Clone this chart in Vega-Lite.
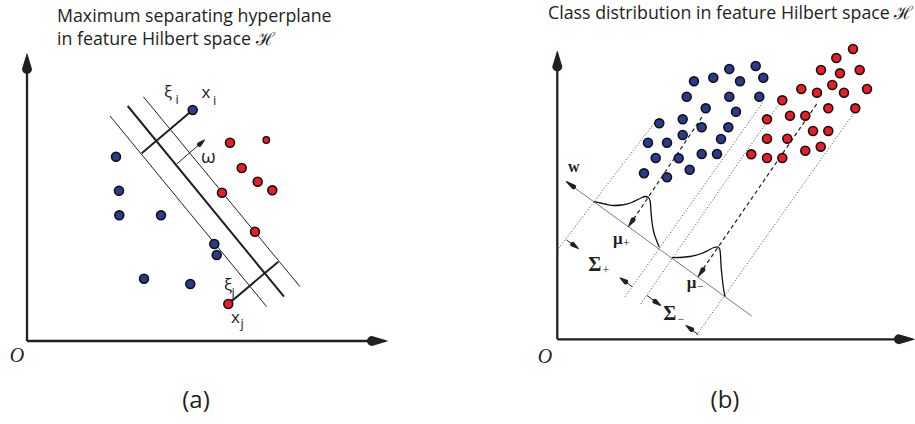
{
  "$schema": "https://vega.github.io/schema/vega-lite/v6.json",
  "width": 915,
  "height": 424,
  "autosize": {"type": "fit", "contains": "padding"},
  "padding": 0,
  "background": "white",
  "config": {"view": {"stroke": null}},
  "datasets": {
    "segs": [
      {"k": "axis", "x1": 27, "y1": 341, "x2": 27, "y2": 63},
      {"k": "axis", "x1": 27, "y1": 341, "x2": 377, "y2": 341},
      {"k": "axis", "x1": 557.3, "y1": 339.3, "x2": 557.3, "y2": 60},
      {"k": "axis", "x1": 557.3, "y1": 339.3, "x2": 905, "y2": 339.3},
      {"k": "thick", "x1": 127.7, "y1": 106, "x2": 284, "y2": 296.7},
      {"k": "thick", "x1": 192.7, "y1": 110, "x2": 141.7, "y2": 153.3},
      {"k": "thick", "x1": 228.3, "y1": 304, "x2": 278.3, "y2": 261.7},
      {"k": "thin", "x1": 110, "y1": 116, "x2": 266.7, "y2": 306.7},
      {"k": "thin", "x1": 143.3, "y1": 96.7, "x2": 300, "y2": 286.7},
      {"k": "thin", "x1": 176.7, "y1": 164, "x2": 201, "y2": 143},
      {"k": "thin", "x1": 566.5, "y1": 240, "x2": 574, "y2": 245.4},
      {"k": "thin", "x1": 632.2, "y1": 286.7, "x2": 624.5, "y2": 281},
      {"k": "thin", "x1": 647, "y1": 295.5, "x2": 656, "y2": 302},
      {"k": "thin", "x1": 698.3, "y1": 334.5, "x2": 690.5, "y2": 328.8},
      {"k": "wline", "x1": 570, "y1": 184.5, "x2": 751.7, "y2": 316},
      {"k": "dotted", "x1": 558.7, "y1": 248.3, "x2": 655, "y2": 122},
      {"k": "dotted", "x1": 625, "y1": 296.7, "x2": 763.3, "y2": 101.7},
      {"k": "dotted", "x1": 640.7, "y1": 304, "x2": 782, "y2": 100},
      {"k": "dotted", "x1": 696.7, "y1": 335, "x2": 856, "y2": 110},
      {"k": "dashed", "x1": 702, "y1": 117, "x2": 631, "y2": 223},
      {"k": "dashed", "x1": 816.7, "y1": 104, "x2": 701, "y2": 272}
    ],
    "heads": [
      {"id": "ay", "part": "tip", "o": 1, "x": 27, "y": 54},
      {"id": "ay", "part": "big", "o": 2, "x": 27, "y": 69},
      {"id": "ax", "part": "tip", "o": 1, "x": 387, "y": 341},
      {"id": "ax", "part": "big", "o": 2, "x": 372, "y": 341},
      {"id": "om", "part": "tip", "o": 1, "x": 204.5, "y": 140},
      {"id": "om", "part": "sm", "o": 2, "x": 199.5, "y": 144.3},
      {"id": "by", "part": "tip", "o": 1, "x": 557.3, "y": 51.5},
      {"id": "by", "part": "big", "o": 2, "x": 557.3, "y": 66.5},
      {"id": "bx", "part": "tip", "o": 1, "x": 914, "y": 339.3},
      {"id": "bx", "part": "big", "o": 2, "x": 899, "y": 339.3},
      {"id": "w", "part": "tip", "o": 1, "x": 566.3, "y": 181.5},
      {"id": "w", "part": "sm", "o": 2, "x": 573.5, "y": 186.7},
      {"id": "mp", "part": "tip", "o": 1, "x": 628.5, "y": 226.5},
      {"id": "mp", "part": "sm", "o": 2, "x": 633, "y": 219.9},
      {"id": "mm", "part": "tip", "o": 1, "x": 698.3, "y": 276.5},
      {"id": "mm", "part": "sm", "o": 2, "x": 702.8, "y": 269.9},
      {"id": "sa", "part": "tip", "o": 1, "x": 578.5, "y": 248.6},
      {"id": "sa", "part": "sm", "o": 2, "x": 572.8, "y": 244.5},
      {"id": "sb", "part": "tip", "o": 1, "x": 620, "y": 277.8},
      {"id": "sb", "part": "sm", "o": 2, "x": 625.7, "y": 281.9},
      {"id": "sc", "part": "tip", "o": 1, "x": 660.7, "y": 305.5},
      {"id": "sc", "part": "sm", "o": 2, "x": 655, "y": 301.4},
      {"id": "sd", "part": "tip", "o": 1, "x": 686, "y": 325.5},
      {"id": "sd", "part": "sm", "o": 2, "x": 691.6, "y": 329.6}
    ],
    "curves": [
      {"id": "c1", "o": 1, "x": 594.3, "y": 201.7},
      {"id": "c1", "o": 2, "x": 605, "y": 204},
      {"id": "c1", "o": 3, "x": 613.3, "y": 205.5},
      {"id": "c1", "o": 4, "x": 622, "y": 205},
      {"id": "c1", "o": 5, "x": 631.7, "y": 202.5},
      {"id": "c1", "o": 6, "x": 640, "y": 198.5},
      {"id": "c1", "o": 7, "x": 645.5, "y": 196.5},
      {"id": "c1", "o": 8, "x": 648.5, "y": 197.5},
      {"id": "c1", "o": 9, "x": 650.3, "y": 202},
      {"id": "c1", "o": 10, "x": 651, "y": 212},
      {"id": "c1", "o": 11, "x": 652, "y": 222},
      {"id": "c1", "o": 12, "x": 653.5, "y": 231},
      {"id": "c1", "o": 13, "x": 656, "y": 239},
      {"id": "c1", "o": 14, "x": 659.3, "y": 247},
      {"id": "c2", "o": 1, "x": 671.7, "y": 257.7},
      {"id": "c2", "o": 2, "x": 680, "y": 257.5},
      {"id": "c2", "o": 3, "x": 690, "y": 256.5},
      {"id": "c2", "o": 4, "x": 700, "y": 254},
      {"id": "c2", "o": 5, "x": 708, "y": 250.5},
      {"id": "c2", "o": 6, "x": 714, "y": 247.5},
      {"id": "c2", "o": 7, "x": 717.5, "y": 246.8},
      {"id": "c2", "o": 8, "x": 719.5, "y": 248.5},
      {"id": "c2", "o": 9, "x": 720.5, "y": 255},
      {"id": "c2", "o": 10, "x": 721, "y": 265},
      {"id": "c2", "o": 11, "x": 722, "y": 276},
      {"id": "c2", "o": 12, "x": 723.3, "y": 287},
      {"id": "c2", "o": 13, "x": 725, "y": 296.7}
    ],
    "pts": [
      {"cls": "blue", "sz": "n", "x": 192.7, "y": 110},
      {"cls": "blue", "sz": "n", "x": 116, "y": 156.7},
      {"cls": "blue", "sz": "n", "x": 119, "y": 190.7},
      {"cls": "blue", "sz": "n", "x": 119.3, "y": 215.3},
      {"cls": "blue", "sz": "n", "x": 161, "y": 215.3},
      {"cls": "blue", "sz": "n", "x": 214.3, "y": 244},
      {"cls": "blue", "sz": "n", "x": 216.7, "y": 255},
      {"cls": "blue", "sz": "n", "x": 144, "y": 278.7},
      {"cls": "blue", "sz": "n", "x": 190.3, "y": 284},
      {"cls": "red", "sz": "n", "x": 230, "y": 142.7},
      {"cls": "red", "sz": "s", "x": 266.3, "y": 140},
      {"cls": "red", "sz": "n", "x": 241.7, "y": 168},
      {"cls": "red", "sz": "n", "x": 257.7, "y": 181.7},
      {"cls": "red", "sz": "n", "x": 272.3, "y": 190.3},
      {"cls": "red", "sz": "n", "x": 222, "y": 192.7},
      {"cls": "red", "sz": "n", "x": 255, "y": 231.7},
      {"cls": "red", "sz": "n", "x": 228.3, "y": 304},
      {"cls": "blue", "sz": "n", "x": 755.7, "y": 66},
      {"cls": "blue", "sz": "n", "x": 729.3, "y": 69},
      {"cls": "blue", "sz": "n", "x": 713.3, "y": 77.7},
      {"cls": "blue", "sz": "n", "x": 694, "y": 81.3},
      {"cls": "blue", "sz": "n", "x": 740, "y": 81.3},
      {"cls": "blue", "sz": "n", "x": 763.3, "y": 77.7},
      {"cls": "blue", "sz": "n", "x": 686.7, "y": 96.7},
      {"cls": "blue", "sz": "n", "x": 729.3, "y": 96.7},
      {"cls": "blue", "sz": "n", "x": 759.3, "y": 96.7},
      {"cls": "blue", "sz": "n", "x": 705.7, "y": 108.3},
      {"cls": "blue", "sz": "n", "x": 736, "y": 111.7},
      {"cls": "blue", "sz": "n", "x": 659.3, "y": 123.3},
      {"cls": "blue", "sz": "n", "x": 682.7, "y": 119.3},
      {"cls": "blue", "sz": "n", "x": 701.7, "y": 127.3},
      {"cls": "blue", "sz": "n", "x": 728.3, "y": 127.3},
      {"cls": "blue", "sz": "n", "x": 648, "y": 142.7},
      {"cls": "blue", "sz": "n", "x": 667, "y": 142.7},
      {"cls": "blue", "sz": "n", "x": 682.7, "y": 135},
      {"cls": "blue", "sz": "n", "x": 721, "y": 139},
      {"cls": "blue", "sz": "n", "x": 655.7, "y": 158},
      {"cls": "blue", "sz": "n", "x": 678.7, "y": 158.3},
      {"cls": "blue", "sz": "n", "x": 701.7, "y": 154},
      {"cls": "blue", "sz": "n", "x": 717, "y": 154},
      {"cls": "blue", "sz": "n", "x": 644, "y": 173.3},
      {"cls": "blue", "sz": "n", "x": 667, "y": 177.3},
      {"cls": "blue", "sz": "n", "x": 689.7, "y": 169.7},
      {"cls": "red", "sz": "n", "x": 853, "y": 49},
      {"cls": "red", "sz": "n", "x": 836.3, "y": 58},
      {"cls": "red", "sz": "n", "x": 821, "y": 70},
      {"cls": "red", "sz": "n", "x": 840, "y": 73.3},
      {"cls": "red", "sz": "n", "x": 859.7, "y": 70},
      {"cls": "red", "sz": "n", "x": 832.3, "y": 85},
      {"cls": "red", "sz": "n", "x": 801.3, "y": 89},
      {"cls": "red", "sz": "n", "x": 817, "y": 92.7},
      {"cls": "red", "sz": "n", "x": 844, "y": 92.7},
      {"cls": "red", "sz": "n", "x": 867, "y": 89},
      {"cls": "red", "sz": "n", "x": 782.3, "y": 100.3},
      {"cls": "red", "sz": "n", "x": 828.3, "y": 108.3},
      {"cls": "red", "sz": "n", "x": 855.3, "y": 108.3},
      {"cls": "red", "sz": "n", "x": 790, "y": 115.7},
      {"cls": "red", "sz": "n", "x": 805.3, "y": 115.7},
      {"cls": "red", "sz": "n", "x": 767, "y": 119.3},
      {"cls": "red", "sz": "n", "x": 813, "y": 131},
      {"cls": "red", "sz": "n", "x": 828.3, "y": 131},
      {"cls": "red", "sz": "n", "x": 767, "y": 138.7},
      {"cls": "red", "sz": "n", "x": 787.3, "y": 138.7},
      {"cls": "red", "sz": "n", "x": 751.3, "y": 154.3},
      {"cls": "red", "sz": "n", "x": 767, "y": 158},
      {"cls": "red", "sz": "n", "x": 782.3, "y": 158},
      {"cls": "red", "sz": "n", "x": 805.3, "y": 150.7},
      {"cls": "red", "sz": "n", "x": 820.7, "y": 146.7}
    ],
    "labels": [
      {"k": "title", "t": "Maximum separating hyperplane", "x": 57, "y": 22},
      {"k": "title", "t": "in feature Hilbert space ℋ", "x": 57, "y": 45},
      {"k": "title", "t": "Class distribution in feature Hilbert space ℋ", "x": 548, "y": 18.5},
      {"k": "panel", "t": "(a)", "x": 196, "y": 401},
      {"k": "panel", "t": "(b)", "x": 725, "y": 401},
      {"k": "origin", "t": "O", "x": 17, "y": 356},
      {"k": "origin", "t": "O", "x": 545, "y": 357},
      {"k": "sym", "t": "ξ", "x": 164, "y": 98},
      {"k": "sym", "t": "x", "x": 201.5, "y": 97.7},
      {"k": "sym", "t": "ξ", "x": 224, "y": 291},
      {"k": "sym", "t": "x", "x": 231, "y": 323.3},
      {"k": "omega", "t": "ω", "x": 201, "y": 163},
      {"k": "sub", "t": "i", "x": 175.5, "y": 103.5},
      {"k": "sub", "t": "i", "x": 213, "y": 105},
      {"k": "sub", "t": "j", "x": 231.5, "y": 297},
      {"k": "sub", "t": "j", "x": 240.5, "y": 328},
      {"k": "w", "t": "w", "x": 568, "y": 171.7},
      {"k": "mu", "t": "μ", "x": 613, "y": 244},
      {"k": "mu", "t": "μ", "x": 686.7, "y": 288},
      {"k": "sigma", "t": "Σ", "x": 588.3, "y": 270.7},
      {"k": "sigma", "t": "Σ", "x": 663.3, "y": 320},
      {"k": "ssub", "t": "+", "x": 602.5, "y": 273.5},
      {"k": "ssub", "t": "+", "x": 623, "y": 246.5},
      {"k": "ssub", "t": "−", "x": 697, "y": 290},
      {"k": "ssub", "t": "−", "x": 677.5, "y": 323}
    ]
  },
  "layer": [
    {
      "data": {"name": "segs"},
      "transform": [{"filter": "datum.k === 'dotted'"}],
      "mark": {"type": "rule", "stroke": "#444444", "strokeWidth": 1, "strokeDash": [1, 2]},
      "encoding": {
        "x": {"field": "x1", "type": "quantitative", "scale": {"domain": [0, 915], "nice": false, "zero": false}, "axis": null},
        "y": {"field": "y1", "type": "quantitative", "scale": {"domain": [0, 424], "nice": false, "zero": false, "reverse": true}, "axis": null},
        "x2": {"field": "x2"},
        "y2": {"field": "y2"}
      }
    },
    {
      "data": {"name": "segs"},
      "transform": [{"filter": "datum.k === 'dashed'"}],
      "mark": {"type": "rule", "stroke": "#222222", "strokeWidth": 1.2, "strokeDash": [4, 3]},
      "encoding": {
        "x": {"field": "x1", "type": "quantitative", "scale": {"domain": [0, 915], "nice": false, "zero": false}, "axis": null},
        "y": {"field": "y1", "type": "quantitative", "scale": {"domain": [0, 424], "nice": false, "zero": false, "reverse": true}, "axis": null},
        "x2": {"field": "x2"},
        "y2": {"field": "y2"}
      }
    },
    {
      "data": {"name": "segs"},
      "transform": [{"filter": "datum.k === 'wline'"}],
      "mark": {"type": "rule", "stroke": "#7a7a7a", "strokeWidth": 1},
      "encoding": {
        "x": {"field": "x1", "type": "quantitative", "scale": {"domain": [0, 915], "nice": false, "zero": false}, "axis": null},
        "y": {"field": "y1", "type": "quantitative", "scale": {"domain": [0, 424], "nice": false, "zero": false, "reverse": true}, "axis": null},
        "x2": {"field": "x2"},
        "y2": {"field": "y2"}
      }
    },
    {
      "data": {"name": "segs"},
      "transform": [{"filter": "datum.k === 'thin'"}],
      "mark": {"type": "rule", "stroke": "#231f20", "strokeWidth": 1},
      "encoding": {
        "x": {"field": "x1", "type": "quantitative", "scale": {"domain": [0, 915], "nice": false, "zero": false}, "axis": null},
        "y": {"field": "y1", "type": "quantitative", "scale": {"domain": [0, 424], "nice": false, "zero": false, "reverse": true}, "axis": null},
        "x2": {"field": "x2"},
        "y2": {"field": "y2"}
      }
    },
    {
      "data": {"name": "segs"},
      "transform": [{"filter": "datum.k === 'thick'"}],
      "mark": {"type": "rule", "stroke": "#231f20", "strokeWidth": 2},
      "encoding": {
        "x": {"field": "x1", "type": "quantitative", "scale": {"domain": [0, 915], "nice": false, "zero": false}, "axis": null},
        "y": {"field": "y1", "type": "quantitative", "scale": {"domain": [0, 424], "nice": false, "zero": false, "reverse": true}, "axis": null},
        "x2": {"field": "x2"},
        "y2": {"field": "y2"}
      }
    },
    {
      "data": {"name": "segs"},
      "transform": [{"filter": "datum.k === 'axis'"}],
      "mark": {"type": "rule", "stroke": "#231f20", "strokeWidth": 2.3},
      "encoding": {
        "x": {"field": "x1", "type": "quantitative", "scale": {"domain": [0, 915], "nice": false, "zero": false}, "axis": null},
        "y": {"field": "y1", "type": "quantitative", "scale": {"domain": [0, 424], "nice": false, "zero": false, "reverse": true}, "axis": null},
        "x2": {"field": "x2"},
        "y2": {"field": "y2"}
      }
    },
    {
      "data": {"name": "curves"},
      "mark": {"type": "line", "stroke": "#111111", "strokeWidth": 1.3, "interpolate": "monotone"},
      "encoding": {
        "x": {"field": "x", "type": "quantitative", "scale": {"domain": [0, 915], "nice": false, "zero": false}, "axis": null},
        "y": {"field": "y", "type": "quantitative", "scale": {"domain": [0, 424], "nice": false, "zero": false, "reverse": true}, "axis": null},
        "detail": {"field": "id", "type": "nominal"},
        "order": {"field": "o", "type": "quantitative"}
      }
    },
    {
      "data": {"name": "heads"},
      "mark": {"type": "trail", "color": "#231f20"},
      "encoding": {
        "x": {"field": "x", "type": "quantitative", "scale": {"domain": [0, 915], "nice": false, "zero": false}, "axis": null},
        "y": {"field": "y", "type": "quantitative", "scale": {"domain": [0, 424], "nice": false, "zero": false, "reverse": true}, "axis": null},
        "detail": {"field": "id", "type": "nominal"},
        "order": {"field": "o", "type": "quantitative"},
        "size": {"field": "part", "type": "nominal", "scale": {"type": "point", "domain": ["tip", "sm", "big"], "range": [0, 10], "padding": 0}, "legend": null}
      }
    },
    {
      "data": {"name": "pts"},
      "transform": [{"filter": "datum.sz === 'n'"}],
      "mark": {"type": "circle", "size": 80, "stroke": "#111111", "strokeWidth": 1.6, "opacity": 1},
      "encoding": {
        "x": {"field": "x", "type": "quantitative", "scale": {"domain": [0, 915], "nice": false, "zero": false}, "axis": null},
        "y": {"field": "y", "type": "quantitative", "scale": {"domain": [0, 424], "nice": false, "zero": false, "reverse": true}, "axis": null},
        "fill": {"field": "cls", "type": "nominal", "scale": {"domain": ["blue", "red"], "range": ["#2b3990", "#ed1c24"]}, "legend": null}
      }
    },
    {
      "data": {"name": "pts"},
      "transform": [{"filter": "datum.sz === 's'"}],
      "mark": {"type": "circle", "size": 42, "stroke": "#111111", "strokeWidth": 1.4, "opacity": 1},
      "encoding": {
        "x": {"field": "x", "type": "quantitative", "scale": {"domain": [0, 915], "nice": false, "zero": false}, "axis": null},
        "y": {"field": "y", "type": "quantitative", "scale": {"domain": [0, 424], "nice": false, "zero": false, "reverse": true}, "axis": null},
        "fill": {"field": "cls", "type": "nominal", "scale": {"domain": ["blue", "red"], "range": ["#2b3990", "#ed1c24"]}, "legend": null}
      }
    },
    {
      "data": {"name": "labels"},
      "transform": [{"filter": "datum.k === 'title'"}],
      "mark": {"type": "text", "font": "Open Sans", "fontSize": 17.8, "align": "left", "baseline": "alphabetic", "color": "#231f20"},
      "encoding": {
        "x": {"field": "x", "type": "quantitative", "scale": {"domain": [0, 915], "nice": false, "zero": false}, "axis": null},
        "y": {"field": "y", "type": "quantitative", "scale": {"domain": [0, 424], "nice": false, "zero": false, "reverse": true}, "axis": null},
        "text": {"field": "t"}
      }
    },
    {
      "data": {"name": "labels"},
      "transform": [{"filter": "datum.k === 'panel'"}],
      "mark": {"type": "text", "font": "Open Sans", "fontSize": 24, "align": "center", "baseline": "middle", "color": "#231f20"},
      "encoding": {
        "x": {"field": "x", "type": "quantitative", "scale": {"domain": [0, 915], "nice": false, "zero": false}, "axis": null},
        "y": {"field": "y", "type": "quantitative", "scale": {"domain": [0, 424], "nice": false, "zero": false, "reverse": true}, "axis": null},
        "text": {"field": "t"}
      }
    },
    {
      "data": {"name": "labels"},
      "transform": [{"filter": "datum.k === 'origin'"}],
      "mark": {"type": "text", "font": "Liberation Serif", "fontStyle": "italic", "fontSize": 20, "align": "center", "baseline": "middle", "color": "#231f20"},
      "encoding": {
        "x": {"field": "x", "type": "quantitative", "scale": {"domain": [0, 915], "nice": false, "zero": false}, "axis": null},
        "y": {"field": "y", "type": "quantitative", "scale": {"domain": [0, 424], "nice": false, "zero": false, "reverse": true}, "axis": null},
        "text": {"field": "t"}
      }
    },
    {
      "data": {"name": "labels"},
      "transform": [{"filter": "datum.k === 'sym'"}],
      "mark": {"type": "text", "font": "Open Sans", "fontSize": 17, "align": "left", "baseline": "alphabetic", "color": "#231f20"},
      "encoding": {
        "x": {"field": "x", "type": "quantitative", "scale": {"domain": [0, 915], "nice": false, "zero": false}, "axis": null},
        "y": {"field": "y", "type": "quantitative", "scale": {"domain": [0, 424], "nice": false, "zero": false, "reverse": true}, "axis": null},
        "text": {"field": "t"}
      }
    },
    {
      "data": {"name": "labels"},
      "transform": [{"filter": "datum.k === 'omega'"}],
      "mark": {"type": "text", "font": "Open Sans", "fontSize": 19, "align": "left", "baseline": "alphabetic", "color": "#231f20"},
      "encoding": {
        "x": {"field": "x", "type": "quantitative", "scale": {"domain": [0, 915], "nice": false, "zero": false}, "axis": null},
        "y": {"field": "y", "type": "quantitative", "scale": {"domain": [0, 424], "nice": false, "zero": false, "reverse": true}, "axis": null},
        "text": {"field": "t"}
      }
    },
    {
      "data": {"name": "labels"},
      "transform": [{"filter": "datum.k === 'sub'"}],
      "mark": {"type": "text", "font": "Open Sans", "fontSize": 13, "align": "left", "baseline": "alphabetic", "color": "#231f20"},
      "encoding": {
        "x": {"field": "x", "type": "quantitative", "scale": {"domain": [0, 915], "nice": false, "zero": false}, "axis": null},
        "y": {"field": "y", "type": "quantitative", "scale": {"domain": [0, 424], "nice": false, "zero": false, "reverse": true}, "axis": null},
        "text": {"field": "t"}
      }
    },
    {
      "data": {"name": "labels"},
      "transform": [{"filter": "datum.k === 'w'"}],
      "mark": {"type": "text", "font": "Liberation Serif", "fontWeight": "bold", "fontSize": 16, "align": "left", "baseline": "alphabetic", "color": "#231f20"},
      "encoding": {
        "x": {"field": "x", "type": "quantitative", "scale": {"domain": [0, 915], "nice": false, "zero": false}, "axis": null},
        "y": {"field": "y", "type": "quantitative", "scale": {"domain": [0, 424], "nice": false, "zero": false, "reverse": true}, "axis": null},
        "text": {"field": "t"}
      }
    },
    {
      "data": {"name": "labels"},
      "transform": [{"filter": "datum.k === 'mu'"}],
      "mark": {"type": "text", "font": "Liberation Serif", "fontWeight": "bold", "fontSize": 17, "align": "left", "baseline": "alphabetic", "color": "#231f20"},
      "encoding": {
        "x": {"field": "x", "type": "quantitative", "scale": {"domain": [0, 915], "nice": false, "zero": false}, "axis": null},
        "y": {"field": "y", "type": "quantitative", "scale": {"domain": [0, 424], "nice": false, "zero": false, "reverse": true}, "axis": null},
        "text": {"field": "t"}
      }
    },
    {
      "data": {"name": "labels"},
      "transform": [{"filter": "datum.k === 'sigma'"}],
      "mark": {"type": "text", "font": "Liberation Serif", "fontWeight": "bold", "fontSize": 20, "align": "left", "baseline": "alphabetic", "color": "#231f20"},
      "encoding": {
        "x": {"field": "x", "type": "quantitative", "scale": {"domain": [0, 915], "nice": false, "zero": false}, "axis": null},
        "y": {"field": "y", "type": "quantitative", "scale": {"domain": [0, 424], "nice": false, "zero": false, "reverse": true}, "axis": null},
        "text": {"field": "t"}
      }
    },
    {
      "data": {"name": "labels"},
      "transform": [{"filter": "datum.k === 'ssub'"}],
      "mark": {"type": "text", "font": "Liberation Serif", "fontSize": 12, "align": "left", "baseline": "alphabetic", "color": "#231f20"},
      "encoding": {
        "x": {"field": "x", "type": "quantitative", "scale": {"domain": [0, 915], "nice": false, "zero": false}, "axis": null},
        "y": {"field": "y", "type": "quantitative", "scale": {"domain": [0, 424], "nice": false, "zero": false, "reverse": true}, "axis": null},
        "text": {"field": "t"}
      }
    }
  ]
}
